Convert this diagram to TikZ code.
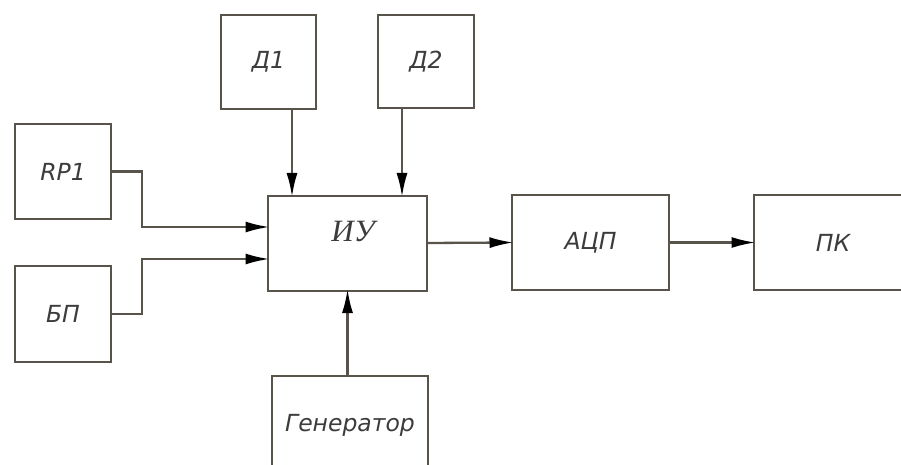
\documentclass[tikz,border=0pt]{standalone}
\usepackage{fontspec}
\setmainfont{DejaVu Sans}
\newfontfamily\labfont{DejaVu Sans Oblique}
\newfontfamily\serfont{Liberation Serif}
\usetikzlibrary{arrows.meta}
\definecolor{ln}{RGB}{88,84,76}
\definecolor{tx}{RGB}{60,60,60}
\begin{document}
\begin{tikzpicture}[x=1pt,y=-1pt,
  blockbox/.style={draw=ln,line width=2pt,inner sep=0pt,outer sep=0pt,
    font=\labfont\fontsize{23.5}{26}\selectfont,text=tx},
  conn/.style={draw=ln,line width=2.3pt},
  arr/.style={conn,shorten >=-1.5pt,-{Latex[length=24pt,width=11pt,black]}}]
\useasboundingbox (0,0) rectangle (901,465);
\fill[white] (0,0) rectangle (901,465);
\clip (0,0) rectangle (901,465);
\node[blockbox,minimum width=96pt,minimum height=95pt] (rp1) at (63,171.5) {RP1};
\node[blockbox,minimum width=96pt,minimum height=96pt] (bp) at (63,314) {БП};
\node[blockbox,minimum width=95pt,minimum height=94pt] (d1) at (268.5,62) {Д1};
\node[blockbox,minimum width=96pt,minimum height=93pt] (d2) at (426,61.5) {Д2};
\node[blockbox,minimum width=159pt,minimum height=95pt] (iu) at (347.5,243) {};
\node[font=\serfont\itshape\fontsize{31}{34}\selectfont,text=tx,inner sep=0pt] (iut) at (353,232) {ИУ};
\node[blockbox,minimum width=157pt,minimum height=95pt] (adc) at (590.5,242.5) {АЦП};
\node[blockbox,minimum width=158pt,minimum height=95pt] (pk) at (833,242.5) {ПК};
\node[blockbox,minimum width=156pt,minimum height=98pt] (gen) at (350,425) {Генератор};
\coordinate (a1) at ([xshift=-55.5pt]iu.north);
\coordinate (a2) at ([xshift=54.5pt]iu.north);
\draw[arr] (rp1.east) -- ++(31,0) |- ([yshift=16pt]iu.west);
\draw[arr] (bp.east) -- ++(31,0) |- ([yshift=-16pt]iu.west);
\draw[arr] (d1.south -| a1) -- (a1);
\draw[arr] (d2.south -| a2) -- (a2);
\draw[arr] (gen.north -| iu.south) -- (iu.south);
\draw[arr] (iu.east) -- (adc.west);
\draw[arr] (adc.east) -- (pk.west);
\end{tikzpicture}
\end{document}
